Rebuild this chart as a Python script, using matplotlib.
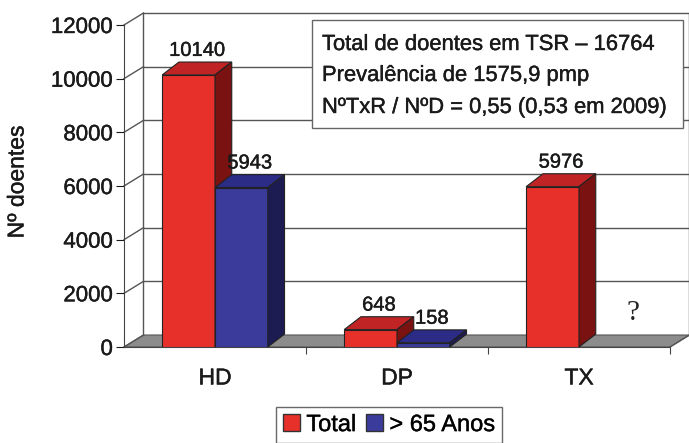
import numpy as np
import matplotlib.pyplot as plt
import matplotlib.patheffects as pe
from matplotlib.patches import Polygon, Rectangle, Patch

plt.rcParams['font.family'] = ['Liberation Sans', 'DejaVu Sans']

categorias = ['HD', 'DP', 'TX']
total = [10140, 648, 5976]
mais65 = [5943, 158, None]      # TX sem dados -> "?"
yticks = [0, 2000, 4000, 6000, 8000, 10000, 12000]
caixa = ['Total de doentes em TSR \u2013 16764',
         'Preval\u00eancia de 1575,9 pmp',
         'N\u00baTxR / N\u00baD = 0,55 (0,53 em 2009)']

W, H = 689, 443
fig = plt.figure(figsize=(W / 100, H / 100), dpi=100)
ax = fig.add_axes([124 / W, 96 / H, 546 / W, 322 / H])
ax.set_xlim(0, 3)
ax.set_ylim(0, 12000)

# traço leve para engrossar o texto
grosso = [pe.withStroke(linewidth=0.3, foreground='#1a1a1a')]

# profundidade (paredes e barras)
DX, DY = 0.107, 447
bdx, bdy = 0.092, 480

grid_c = '#555555'
# chao
ax.add_patch(Polygon([(0, 0), (3, 0), (3 + DX, DY), (DX, DY)], closed=True,
                     facecolor='#8c8c8c', edgecolor='#555555', lw=0.8,
                     clip_on=False, zorder=1))
# grelha
for v in yticks[1:]:
    ax.plot([DX, 3 + DX], [v + DY, v + DY], color=grid_c, lw=1, clip_on=False, zorder=1)
for v in yticks:
    ax.plot([0, DX], [v, v + DY], color=grid_c, lw=1, clip_on=False, zorder=1)
ax.plot([DX, DX], [DY, 12000 + DY], color=grid_c, lw=1, clip_on=False, zorder=1)
ax.plot([3 + DX, 3 + DX], [DY, 12000 + DY], color=grid_c, lw=1, clip_on=False, zorder=1)
ax.plot([3, 3 + DX], [0, DY], color=grid_c, lw=1, clip_on=False, zorder=1)

bw = 0.29
cores = {'r': ('#e8302a', '#c02424', '#7a1212'),
         'b': ('#3b3b9c', '#2c2c86', '#1c1c52')}


def barra3d(x0, v, cor):
    front, top, side = cores[cor]
    ax.bar(x0, v, width=bw, align='edge', color=front, edgecolor='#222222',
           lw=0.8, zorder=3)
    ax.add_patch(Polygon([(x0, v), (x0 + bw, v), (x0 + bw + bdx, v + bdy), (x0 + bdx, v + bdy)],
                         closed=True, facecolor=top, edgecolor='#222222', lw=0.8,
                         clip_on=False, zorder=3))
    ax.add_patch(Polygon([(x0 + bw, 0), (x0 + bw + bdx, bdy), (x0 + bw + bdx, v + bdy), (x0 + bw, v)],
                         closed=True, facecolor=side, edgecolor='#222222', lw=0.8,
                         clip_on=False, zorder=3))
    ax.text(x0 + bw / 2 + bdx / 2, v + bdy + 80, str(v), ha='center', va='bottom',
            fontsize=14.5, color='#1a1a1a', zorder=4, path_effects=grosso)


for i in range(len(categorias)):
    barra3d(i + 0.5 - bw, total[i], 'r')
    if mais65[i] is not None:
        barra3d(i + 0.5, mais65[i], 'b')
    else:
        ax.text(i + 0.797, 1267, '?', ha='center', va='center', fontsize=21,
                family='Liberation Serif', color='#222222')

# eixos
for s in ['top', 'right']:
    ax.spines[s].set_visible(False)
ax.spines['left'].set_color('#444444')
ax.spines['bottom'].set_color('#444444')
ax.set_yticks(yticks)
ax.set_yticklabels([str(v) for v in yticks])
ax.tick_params(axis='y', length=6, pad=2, labelsize=16, colors='#1a1a1a')
ax.set_xticks([1, 2, 3])
ax.set_xticklabels([])
ax.tick_params(axis='x', which='major', length=5, color='#444444')
ax.set_xticks([0.5, 1.5, 2.5], minor=True)
ax.set_xticklabels(categorias, minor=True)
ax.tick_params(axis='x', which='minor', length=0, pad=14, labelsize=16.5, colors='#1a1a1a')
for lab in ax.get_yticklabels() + ax.get_xticklabels(minor=True):
    lab.set_path_effects(grosso)
ax.patch.set_visible(False)

fig.text(17 / W, 1 - 182 / H, 'N\u00ba doentes', rotation=90, ha='center', va='center',
         fontsize=16.5, color='#1a1a1a', path_effects=grosso)

# caixa de texto
fig.add_artist(Rectangle((312 / W, 1 - 128 / H), 371 / W, 108 / H, transform=fig.transFigure,
                         facecolor='white', edgecolor='#666666', lw=1, zorder=5))
for t, yb in zip(caixa, [50, 81, 113]):
    fig.text(322 / W, 1 - yb / H, t, ha='left', va='baseline', fontsize=15.8,
             color='#1a1a1a', zorder=6, path_effects=grosso)

# legenda
handles = [Patch(facecolor='#e8302a', edgecolor='#333333', label='Total'),
           Patch(facecolor='#3b3b9c', edgecolor='#333333', label='> 65 Anos')]
leg = fig.legend(handles=handles, loc='upper center', bbox_to_anchor=(389 / W, 1 - 407 / H),
                 ncol=2, fontsize=17, frameon=True, fancybox=False, edgecolor='#444444',
                 handlelength=0.75, handleheight=0.75, handletextpad=0.25, columnspacing=0.4,
                 borderpad=0.3, borderaxespad=0)
for t in leg.get_texts():
    t.set_path_effects(grosso)

fig.savefig('out.png', dpi=100)
